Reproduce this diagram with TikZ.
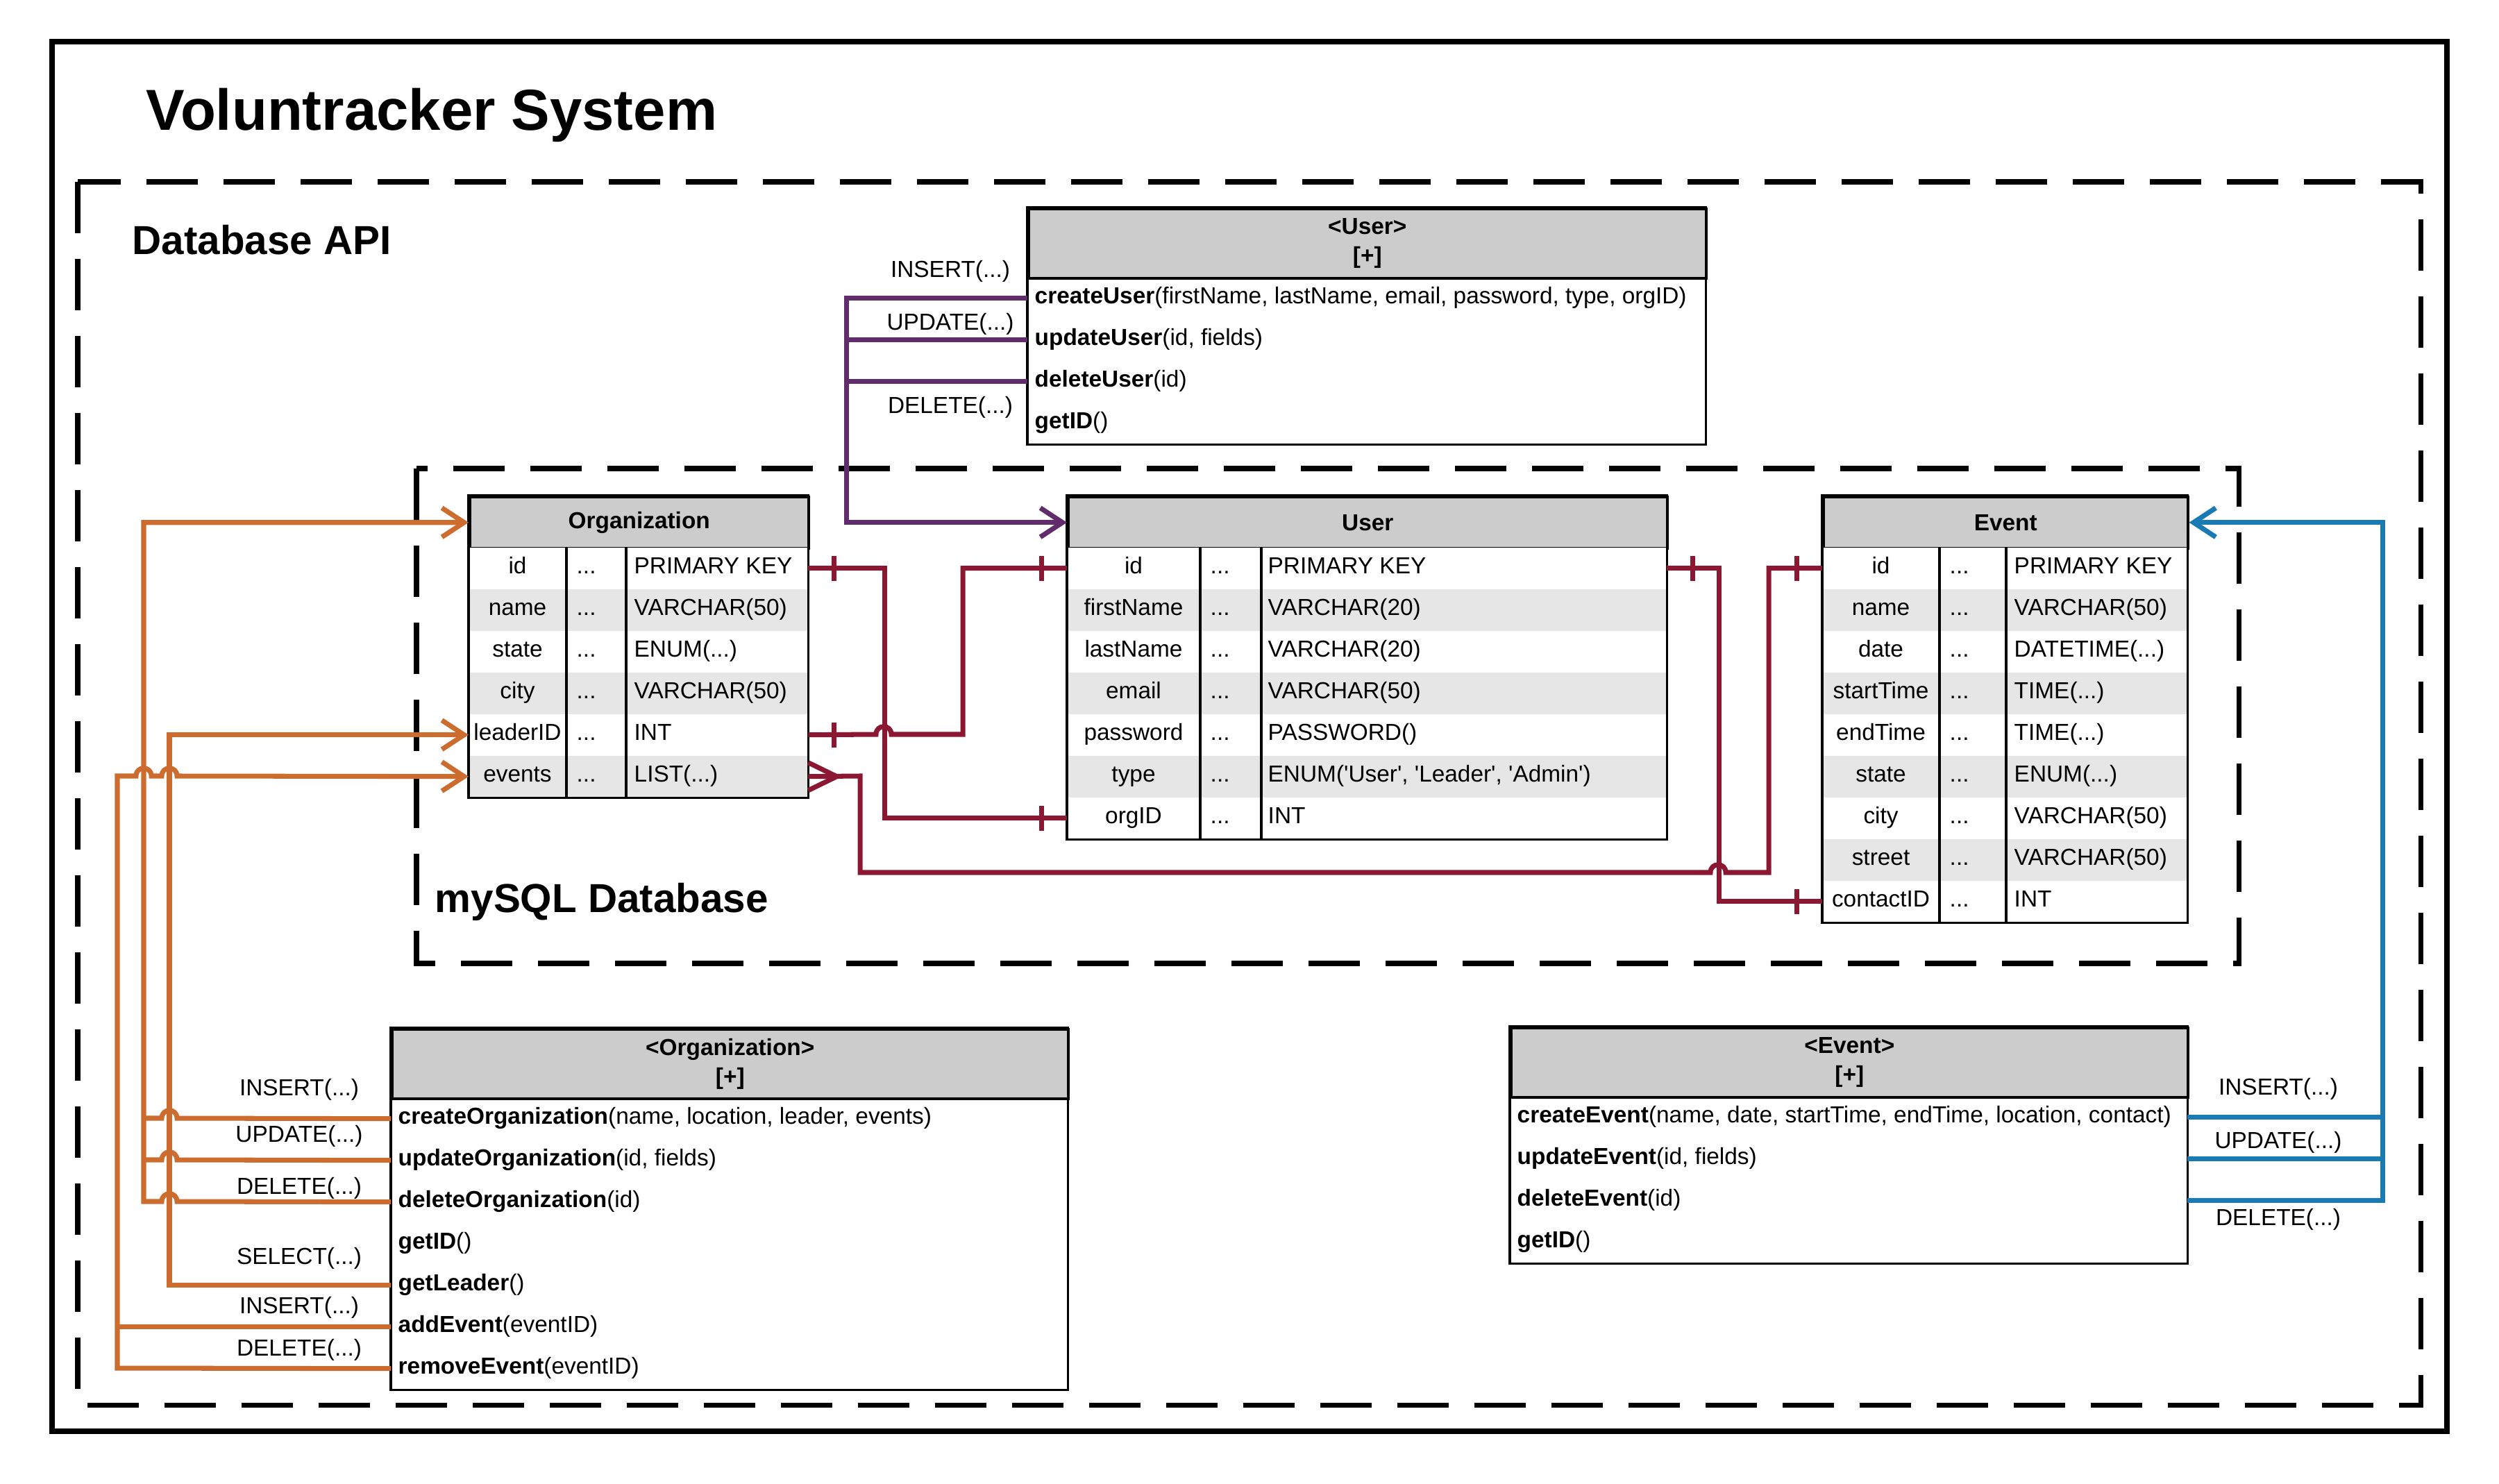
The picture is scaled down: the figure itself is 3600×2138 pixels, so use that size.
\documentclass[tikz,border=0pt]{standalone}
\usepackage{fontspec}
\setmainfont{Liberation Sans}
\usetikzlibrary{arrows.meta}
\definecolor{apiorange}{RGB}{204,108,46}
\definecolor{apipurple}{RGB}{96,44,108}
\definecolor{apiblue}{RGB}{26,122,180}
\definecolor{fkred}{RGB}{140,23,50}
\definecolor{hdrgray}{RGB}{204,204,204}
\definecolor{rowgray}{RGB}{230,230,230}

\begin{document}
\begin{tikzpicture}[x=0.1mm,y=-0.1mm,
  font=\fontsize{9.5pt}{11pt}\selectfont,
  tbl/.style={draw=black,line width=1pt},
  hdr/.style={fill=hdrgray,draw=black,line width=1pt,inner sep=0pt,anchor=north west,
    align=center,font=\fontsize{9.5pt}{12pt}\selectfont\bfseries},
  row/.style={inner sep=0pt,minimum height=6mm,anchor=north west},
  cell/.style={inner sep=0pt,text height=6.8pt,text depth=2.3pt},
  zone/.style={line width=2pt,dash pattern=on 7.4mm off 3.7mm},
  title/.style={anchor=base west,inner sep=0pt,font=\fontsize{16.6pt}{19pt}\selectfont\bfseries},
  conn/.style={line width=2pt,>={Straight Barb[length=3.2mm,width=4.2mm]}}]
  \useasboundingbox (0,0) rectangle (3600,2138);

  % frames:
  \draw[line width=2.3pt] (75,60) rectangle (3525,2062);
  \draw[zone] (112,262) rectangle (3487,2024);
  \draw[zone] (600,675) rectangle (3225,1388);
  \node[anchor=base west,inner sep=0pt,font=\fontsize{23.7pt}{28pt}\selectfont\bfseries] (systitle) at (210,188) {Voluntracker System};
  \node[title] (apititle) at (190,367) {Database API};
  \node[title] (dbtitle) at (626,1314) {mySQL Database};

  % Organization table:
  \node[hdr,minimum width=48.8mm,minimum height=7.4mm] (orghead) at (675,714) {Organization};
  \foreach \i/\f/\t/\bg in {1/id/PRIMARY KEY/white,2/name/VARCHAR(50)/rowgray,3/state/{ENUM(...)}/white,
      4/city/VARCHAR(50)/rowgray,5/leaderID/INT/white,6/events/{LIST(...)}/rowgray}{
    \node[row,fill=\bg,minimum width=48.8mm] (org\f) at (675,{788+60*(\i-1)}) {};
    \node[cell] at ([xshift=7.05mm]org\f.west) {\f};
    \node[cell,anchor=west] at ([xshift=15.5mm]org\f.west) {...};
    \node[cell,anchor=west] at ([xshift=23.8mm]org\f.west) {\t};
  }
  \draw[tbl] (orghead.north west) rectangle (orgevents.south east);
  \draw[tbl] (816,788) -- (816,1149) (902,788) -- (902,1149);

  % User table:
  \node[hdr,minimum width=86.3mm,minimum height=7.4mm] (userhead) at (1537,714) {User};
  \foreach \i/\f/\t/\bg in {1/id/PRIMARY KEY/white,2/firstName/VARCHAR(20)/rowgray,3/lastName/VARCHAR(20)/white,
      4/email/VARCHAR(50)/rowgray,5/password/PASSWORD()/white,
      6/type/{ENUM(\textquotesingle User\textquotesingle, \textquotesingle Leader\textquotesingle, \textquotesingle Admin\textquotesingle)}/rowgray,
      7/orgID/INT/white}{
    \node[row,fill=\bg,minimum width=86.3mm] (user\f) at (1537,{788+60*(\i-1)}) {};
    \node[cell] at ([xshift=9.6mm]user\f.west) {\f};
    \node[cell,anchor=west] at ([xshift=20.6mm]user\f.west) {...};
    \node[cell,anchor=west] at ([xshift=28.9mm]user\f.west) {\t};
  }
  \draw[tbl] (userhead.north west) rectangle (userorgID.south east);
  \draw[tbl] (1729,788) -- (1729,1208) (1817,788) -- (1817,1208);

  % Event table:
  \node[hdr,minimum width=52.5mm,minimum height=7.4mm] (eventhead) at (2625,714) {Event};
  \foreach \i/\f/\t/\bg in {1/id/PRIMARY KEY/white,2/name/VARCHAR(50)/rowgray,3/date/{DATETIME(...)}/white,
      4/startTime/{TIME(...)}/rowgray,5/endTime/{TIME(...)}/white,6/state/{ENUM(...)}/rowgray,
      7/city/VARCHAR(50)/white,8/street/VARCHAR(50)/rowgray,9/contactID/INT/white}{
    \node[row,fill=\bg,minimum width=52.5mm] (event\f) at (2625,{788+60*(\i-1)}) {};
    \node[cell] at ([xshift=8.45mm]event\f.west) {\f};
    \node[cell,anchor=west] at ([xshift=18.3mm]event\f.west) {...};
    \node[cell,anchor=west] at ([xshift=27.6mm]event\f.west) {\t};
  }
  \draw[tbl] (eventhead.north west) rectangle (eventcontactID.south east);
  \draw[tbl] (2794,788) -- (2794,1328) (2890,788) -- (2890,1328);

  % API classes:
  \node[hdr,minimum width=97.6mm,minimum height=10mm] (uapihead) at (1480,299) {<User>\\{[+]}};
  \foreach \i/\m/\a in {1/createUser/{(firstName, lastName, email, password, type, orgID)},
      2/updateUser/{(id, fields)},3/deleteUser/{(id)},4/getID/()}{
    \node[row,minimum width=97.6mm] (uapi\i) at (1480,{399+60*(\i-1)}) {};
    \node[cell,anchor=west] at ([xshift=1mm]uapi\i.west) {\textbf{\m}\a};
  }
  \draw[tbl] (uapihead.north west) rectangle (uapi4.south east);

  \node[hdr,minimum width=97.4mm,minimum height=10mm] (oapihead) at (563,1481) {<Organization>\\{[+]}};
  \foreach \i/\m/\a in {1/createOrganization/{(name, location, leader, events)},
      2/updateOrganization/{(id, fields)},3/deleteOrganization/{(id)},4/getID/(),
      5/getLeader/(),6/addEvent/{(eventID)},7/removeEvent/{(eventID)}}{
    \node[row,minimum width=97.4mm] (oapi\i) at (563,{1581+60*(\i-1)}) {};
    \node[cell,anchor=west] at ([xshift=1mm]oapi\i.west) {\textbf{\m}\a};
  }
  \draw[tbl] (oapihead.north west) rectangle (oapi7.south east);

  \node[hdr,minimum width=97.5mm,minimum height=10mm] (eapihead) at (2175,1479) {<Event>\\{[+]}};
  \foreach \i/\m/\a in {1/createEvent/{(name, date, startTime, endTime, location, contact)},
      2/updateEvent/{(id, fields)},3/deleteEvent/{(id)},4/getID/()}{
    \node[row,minimum width=97.5mm] (eapi\i) at (2175,{1579+60*(\i-1)}) {};
    \node[cell,anchor=west] at ([xshift=1mm]eapi\i.west) {\textbf{\m}\a};
  }
  \draw[tbl] (eapihead.north west) rectangle (eapi4.south east);

  \begin{scope}[conn,apipurple]
    % <User> -> User:
    \draw[->] (uapi1.west) -- ++(-261,0) |- (userhead.west);
    \draw (uapi2.west) -- ++(-261,0);
    \draw (uapi3.west) -- ++(-261,0);
  \end{scope}
  \begin{scope}[conn,apiorange]
    % <Organization> -> Organization:
    \draw (oapi1.west) -- (255,1611) .. controls (255,1596) and (233,1596) .. (233,1611) -- (207,1611);
    \draw (oapi2.west) -- (255,1671) .. controls (255,1656) and (233,1656) .. (233,1671) -- (207,1671);
    \draw[->] (oapi3.west) -- (255,1731) .. controls (255,1716) and (233,1716) .. (233,1731) -- (207,1731) |- (orghead.west);
    \draw[->] (oapi5.west) -- ++(-319,0) |- (orgleaderID.west);
    \draw (oapi6.west) -- ++(-394,0);
    \draw[->] (oapi7.west) -- (169,1971) -- (169,1118) -- (196,1118) .. controls (196,1103) and (218,1103) .. (218,1118)
      -- (233,1118) .. controls (233,1103) and (255,1103) .. (255,1118) -- (orgevents.west);
  \end{scope}
  \begin{scope}[conn,apiblue]
    % <Event> -> Event:
    \draw[->] (eapi3.east) -- ++(281,0) |- (eventhead.east);
    \draw (eapi1.east) -- ++(281,0);
    \draw (eapi2.east) -- ++(281,0);
  \end{scope}
  \begin{scope}[conn,fkred]
    % keys:
    \draw (orgid.east) -- ++(110,0) |- (userorgID.west);
    \draw (orgleaderID.east) -- (1262,1058) .. controls (1262,1043) and (1284,1043) .. (1284,1058) -- (1387,1058) |- (userid.west);
    \draw (orgevents.east) -- (1239,1118) -- (1239,1257) -- (2464,1257) .. controls (2464,1242) and (2486,1242) .. (2486,1257)
      -- (2548,1257) |- (eventid.west);
    \draw (userid.east) -- ++(75,0) |- (eventcontactID.west);
    \foreach \n in {orgid,orgleaderID,userid}
      \draw ([xshift=3.7mm]\n.east) ++(0,-18) -- ++(0,36);
    \foreach \n in {userid,userorgID,eventid,eventcontactID}
      \draw ([xshift=-3.7mm]\n.west) ++(0,-18) -- ++(0,36);
    \draw ([yshift=2mm]orgevents.east) -- ([xshift=4.1mm]orgevents.east) -- ([yshift=-2mm]orgevents.east);
  \end{scope}

  % query labels:
  \foreach \y/\q in {392/INSERT,468/UPDATE,588/DELETE}
    \node[cell] at (1369,\y) {\q(...)};
  \foreach \y/\q in {1571/INSERT,1638/UPDATE,1713/DELETE,1814/SELECT,1885/INSERT,1946/DELETE}
    \node[cell] at (431,\y) {\q(...)};
  \foreach \y/\q in {1570/INSERT,1647/UPDATE,1758/DELETE}
    \node[cell] at (3282,\y) {\q(...)};
\end{tikzpicture}
\end{document}
